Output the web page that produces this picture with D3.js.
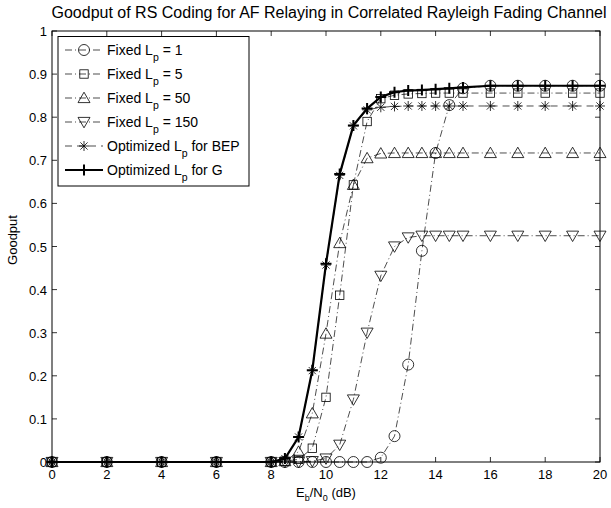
<!DOCTYPE html>
<html>
<head>
<meta charset="utf-8">
<script src="https://cdn.jsdelivr.net/npm/d3@7"></script>
<style>
  html, body { margin: 0; padding: 0; background: #fff; }
  svg { display: block; font-family: "Liberation Sans", Arial, Helvetica, sans-serif; }
</style>
</head>
<body>
<svg id="chart" width="611" height="508"></svg>
<script>
// Eb/N0 sample points (dB)
const ebn0 = [0, 2, 4, 6, 8, 8.5, 9, 9.5, 10, 10.5, 11, 11.5, 12, 12.5, 13, 13.5, 14, 14.5, 15, 16, 17, 18, 19, 20];

// Goodput for each packet-length strategy
const fixedLp1   = [0, 0, 0, 0, 0, 0, 0, 0, 0, 0, 0, 0, 0.01, 0.06, 0.226, 0.49, 0.717, 0.828, 0.867, 0.873, 0.873, 0.873, 0.873, 0.873];
const fixedLp5   = [0, 0, 0, 0, 0, 0.002, 0.006, 0.032, 0.15, 0.387, 0.643, 0.79, 0.843, 0.851, 0.854, 0.855, 0.856, 0.856, 0.856, 0.856, 0.856, 0.856, 0.856, 0.856];
const fixedLp50  = [0, 0, 0, 0, 0, 0.002, 0.024, 0.113, 0.298, 0.508, 0.643, 0.705, 0.716, 0.717, 0.717, 0.717, 0.717, 0.717, 0.717, 0.717, 0.717, 0.717, 0.717, 0.717];
const fixedLp150 = [0, 0, 0, 0, 0, 0, 0, 0.002, 0.008, 0.04, 0.145, 0.3, 0.432, 0.5, 0.521, 0.525, 0.525, 0.525, 0.525, 0.525, 0.525, 0.525, 0.525, 0.525];
const optBEP     = [0, 0, 0, 0, 0, 0.008, 0.058, 0.212, 0.457, 0.665, 0.78, 0.817, 0.823, 0.825, 0.826, 0.826, 0.826, 0.826, 0.826, 0.826, 0.826, 0.826, 0.826, 0.826];
const optG       = [0, 0, 0, 0, 0, 0.008, 0.058, 0.213, 0.46, 0.668, 0.781, 0.82, 0.847, 0.858, 0.862, 0.863, 0.865, 0.867, 0.869, 0.873, 0.873, 0.873, 0.873, 0.873];

// Axis ticks
const xTicks = [0, 2, 4, 6, 8, 10, 12, 14, 16, 18, 20];
const yTicks = [0, 0.1, 0.2, 0.3, 0.4, 0.5, 0.6, 0.7, 0.8, 0.9, 1];

const titleText = "Goodput of RS Coding for AF Relaying in Correlated Rayleigh Fading Channel";

const series = [
  { label: "Fixed L", sub: "p", tail: " = 1",   values: fixedLp1,   marker: "circle",   dash: "7,3,1,3", width: 0.7 },
  { label: "Fixed L", sub: "p", tail: " = 5",   values: fixedLp5,   marker: "square",   dash: "7,3,1,3", width: 0.7 },
  { label: "Fixed L", sub: "p", tail: " = 50",  values: fixedLp50,  marker: "triangle", dash: "7,3,1,3", width: 0.7 },
  { label: "Fixed L", sub: "p", tail: " = 150", values: fixedLp150, marker: "tridown",  dash: "7,3,1,3", width: 0.7 },
  { label: "Optimized L", sub: "p", tail: " for BEP", values: optBEP, marker: "star", dash: "7,5", width: 0.7 },
  { label: "Optimized L", sub: "p", tail: " for G",   values: optG,   marker: "plus", dash: null, width: 2.2 }
];

const svg = d3.select("#chart");
const x = d3.scaleLinear().domain([0, 20]).range([52, 600]);
const y = d3.scaleLinear().domain([0, 1]).range([462, 31]);

// marker glyphs centred on (0,0)
function drawMarker(g, type, lw) {
  const s = g.append("g").attr("fill", "none").attr("stroke", "#000").attr("stroke-width", lw);
  if (type === "circle") s.append("circle").attr("r", 5.5);
  else if (type === "square") s.append("rect").attr("x", -4.2).attr("y", -4.2).attr("width", 8.4).attr("height", 8.4);
  else if (type === "triangle") s.append("path").attr("d", "M0,-5.8L6,4.6L-6,4.6Z");
  else if (type === "tridown") s.append("path").attr("d", "M0,5.8L6,-4.6L-6,-4.6Z");
  else if (type === "star") s.append("path").attr("d", "M-5,0H5M0,-5V5M-3.6,-3.6L3.6,3.6M-3.6,3.6L3.6,-3.6");
  else if (type === "plus") s.append("path").attr("d", "M-5.5,0H5.5M0,-5.5V5.5");
}

// axes background
const plot = svg.append("g");
plot.append("rect")
  .attr("x", x(0)).attr("y", y(1))
  .attr("width", x(20) - x(0)).attr("height", y(0) - y(1))
  .attr("fill", "#fff").attr("stroke", "none");

// series lines and markers
const line = d3.line().x(d => x(d[0])).y(d => y(d[1]));
series.forEach(s => {
  const pts = ebn0.map((e, i) => [e, s.values[i]]);
  plot.append("path")
    .attr("d", line(pts))
    .attr("fill", "none")
    .attr("stroke", "#000")
    .attr("stroke-width", s.width)
    .attr("stroke-dasharray", s.dash);
  const mg = plot.append("g");
  pts.forEach(p => {
    const g = mg.append("g").attr("transform", `translate(${x(p[0])},${y(p[1])})`);
    drawMarker(g, s.marker, s.marker === "plus" ? 2 : 0.8);
  });
});

// frame
plot.append("rect")
  .attr("x", x(0)).attr("y", y(1))
  .attr("width", x(20) - x(0)).attr("height", y(0) - y(1))
  .attr("fill", "none").attr("stroke", "#000").attr("stroke-width", 1);

// inward ticks on all four sides
const tl = 5;
const tickG = svg.append("g").attr("stroke", "#000").attr("stroke-width", 0.8);
xTicks.forEach(t => {
  tickG.append("line").attr("x1", x(t)).attr("x2", x(t)).attr("y1", y(0)).attr("y2", y(0) - tl);
  tickG.append("line").attr("x1", x(t)).attr("x2", x(t)).attr("y1", y(1)).attr("y2", y(1) + tl);
});
yTicks.forEach(t => {
  tickG.append("line").attr("x1", x(0)).attr("x2", x(0) + tl).attr("y1", y(t)).attr("y2", y(t));
  tickG.append("line").attr("x1", x(20)).attr("x2", x(20) - tl).attr("y1", y(t)).attr("y2", y(t));
});

// tick labels
svg.append("g").selectAll("text").data(xTicks).join("text")
  .attr("x", d => x(d)).attr("y", y(0) + 17)
  .attr("text-anchor", "middle").attr("font-size", 13).text(d => d);
svg.append("g").selectAll("text").data(yTicks).join("text")
  .attr("x", x(0) - 5).attr("y", d => y(d) + 5)
  .attr("text-anchor", "end").attr("font-size", 13).text(d => d3.format("~g")(d));

// title and axis labels
svg.append("text").attr("x", 329).attr("y", 18).attr("text-anchor", "middle")
  .attr("font-size", 16).text(titleText);

const xl = svg.append("text").attr("x", 326).attr("y", 497).attr("text-anchor", "middle").attr("font-size", 13);
xl.append("tspan").text("E");
xl.append("tspan").attr("font-size", 9).attr("dy", 4).text("b");
xl.append("tspan").attr("dy", -4).text("/N");
xl.append("tspan").attr("font-size", 9).attr("dy", 4).text("0");
xl.append("tspan").attr("dy", -4).text(" (dB)");

svg.append("text").attr("transform", "translate(17,240) rotate(-90)")
  .attr("text-anchor", "middle").attr("font-size", 13).text("Goodput");

// legend
const lg = svg.append("g");
lg.append("rect").attr("x", 58).attr("y", 36.5).attr("width", 191).attr("height", 149.5)
  .attr("fill", "#fff").attr("stroke", "#000").attr("stroke-width", 1);
series.forEach((s, i) => {
  const cy = 50 + i * 24;
  lg.append("line").attr("x1", 65).attr("x2", 103).attr("y1", cy).attr("y2", cy)
    .attr("stroke", "#000").attr("stroke-width", s.width).attr("stroke-dasharray", s.dash);
  const g = lg.append("g").attr("transform", `translate(84,${cy})`);
  drawMarker(g, s.marker, s.marker === "plus" ? 2 : 0.8);
  const t = lg.append("text").attr("x", 107).attr("y", cy + 5).attr("font-size", 14);
  t.append("tspan").text(s.label);
  t.append("tspan").attr("font-size", 10.5).attr("dy", 6).text(s.sub);
  t.append("tspan").attr("dy", -6).text(s.tail);
});
</script>
</body>
</html>
